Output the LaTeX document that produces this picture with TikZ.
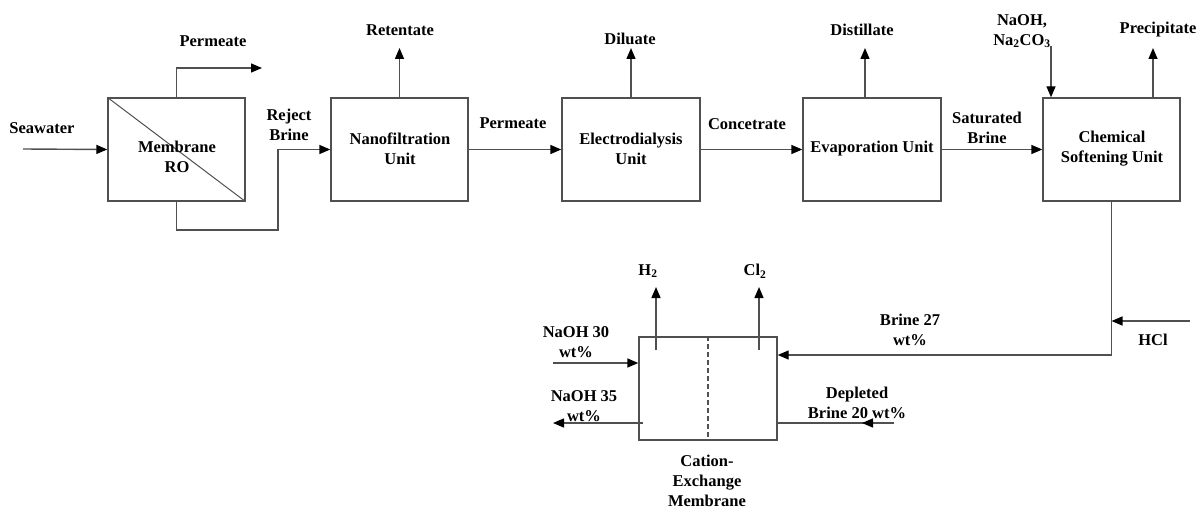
\documentclass[tikz,border=0pt]{standalone}
\usepackage{fontspec}
\setmainfont{Liberation Serif}[BoldFont={Liberation Serif Bold}]
\usetikzlibrary{arrows.meta}
\definecolor{ln}{RGB}{80,80,80}
\begin{document}
\begin{tikzpicture}[x=1pt,y=-1pt,
  every node/.style={font=\fontsize{16.5}{20}\selectfont\bfseries, inner sep=0pt, align=center},
  unitbox/.style={draw=ln, line width=1.4pt, minimum width=137pt, minimum height=103pt},
  flow/.style={draw=ln, line width=1.4pt},
  arr/.style={flow, -{Triangle[length=11pt,width=9pt,color=black]}},
  lbl/.style={text=black}]
\useasboundingbox (0,0) rectangle (1198,508);

% unit boxes
\node[unitbox] (RO) at (176.5,149.5) {};
\node[unitbox] (NF) at (399.5,149.5) {};
\node[unitbox, minimum width=138pt] (ED) at (631,149.5) {};
\node[unitbox, minimum width=138pt] (EV) at (872,149.5) {};
\node[unitbox] (CS) at (1111.5,149.5) {};
\node[unitbox, minimum width=138pt] (cell) at (708,388.5) {};

\draw[flow, line width=1pt] (RO.north west) -- (RO.south east);
\draw[flow, dashed, dash pattern=on 5pt off 3pt] (cell.north) -- (cell.south);

% box texts
\node[lbl] (tRO) at (177,157) {Membrane\\RO};
\node[lbl] (tNF) at (400,149) {Nanofiltration\\Unit};
\node[lbl] (tED) at (631,149) {Electrodialysis\\Unit};
\node[lbl] (tEV) at (872,149) {Evaporation Unit};
\node[lbl] (tCS) at (1112,149) {Chemical\\Softening Unit};

% coordinates
\coordinate (sw) at (23,149);
\coordinate (permEnd) at (262,68);
\coordinate (rb) at (278,230);
\coordinate (retEnd) at (399.5,48);
\coordinate (dilEnd) at (631,48);
\coordinate (disEnd) at (865,48);
\coordinate (naStart) at (1051,46);
\coordinate (preEnd) at (1153,48);
\coordinate (bj) at (1111.5,355);
\coordinate (hcl) at (1190,321);
\coordinate (h2s) at (656,350);
\coordinate (h2e) at (656,287);
\coordinate (cl2s) at (759,350);
\coordinate (cl2e) at (759,287);
\coordinate (n30) at (553,363);
\coordinate (n35s) at (643,423);
\coordinate (n35e) at (553,423);
\coordinate (dep) at (894,423);

% connectors
\draw[arr] (sw) -- (RO.west);
\draw[arr] (RO.north) |- (permEnd);
\draw[arr] (RO.south) |- (rb) |- (NF.west);
\draw[arr] (NF.north) -- (retEnd);
\draw[arr] (NF.east) -- (ED.west);
\draw[arr] (ED.north) -- (dilEnd);
\draw[arr] (ED.east) -- (EV.west);
\draw[arr] (EV.north -| disEnd) -- (disEnd);
\draw[arr] (EV.east) -- (CS.west);
\draw[arr] (naStart) -- (naStart |- CS.north);
\draw[arr] (CS.north -| preEnd) -- (preEnd);
\draw[arr] (CS.south) -- (bj) -- (bj -| cell.east);
\draw[arr] (hcl) -- (hcl -| CS.south);
\draw[arr] (h2s) -- (h2e);
\draw[arr] (cl2s) -- (cl2e);
\draw[arr] (n30) -- (n30 -| cell.west);
\draw[arr] (n35s) -- (n35e);
\draw[flow] (dep) -- (dep -| cell.east);
\draw[arr] (dep) -- ++(-32,0);

% labels
\node[lbl] (lSW) at (42,128) {Seawater};
\node[lbl] (lPerm1) at (213,41) {Permeate};
\node[lbl] (lRB) at (289,125) {Reject\\Brine};
\node[lbl] (lRet) at (400,30) {Retentate};
\node[lbl] (lPerm2) at (513,123) {Permeate};
\node[lbl] (lDil) at (630,39) {Diluate};
\node[lbl] (lCon) at (747,124) {Concetrate};
\node[lbl] (lDis) at (862,30) {Distillate};
\node[lbl] (lSat) at (987,128) {Saturated\\Brine};
\node[lbl] (lNa) at (1022,31) {NaOH,\\Na\textsubscript{2}CO\textsubscript{3}};
\node[lbl] (lPre) at (1158,30) {Precipitate};
\node[lbl] (lH2) at (648,271) {H\textsubscript{2}};
\node[lbl] (lCl2) at (755,271) {Cl\textsubscript{2}};
\node[lbl] (lN30) at (576,342) {NaOH 30\\wt\%};
\node[lbl] (lN35) at (584,406) {NaOH 35\\wt\%};
\node[lbl] (lDep) at (857,403) {Depleted\\Brine 20 wt\%};
\node[lbl] (lB27) at (910,330) {Brine 27\\wt\%};
\node[lbl] (lHCl) at (1153,340) {HCl};
\node[lbl] (lCEM) at (707,481) {Cation-\\Exchange\\Membrane};
\end{tikzpicture}
\end{document}
